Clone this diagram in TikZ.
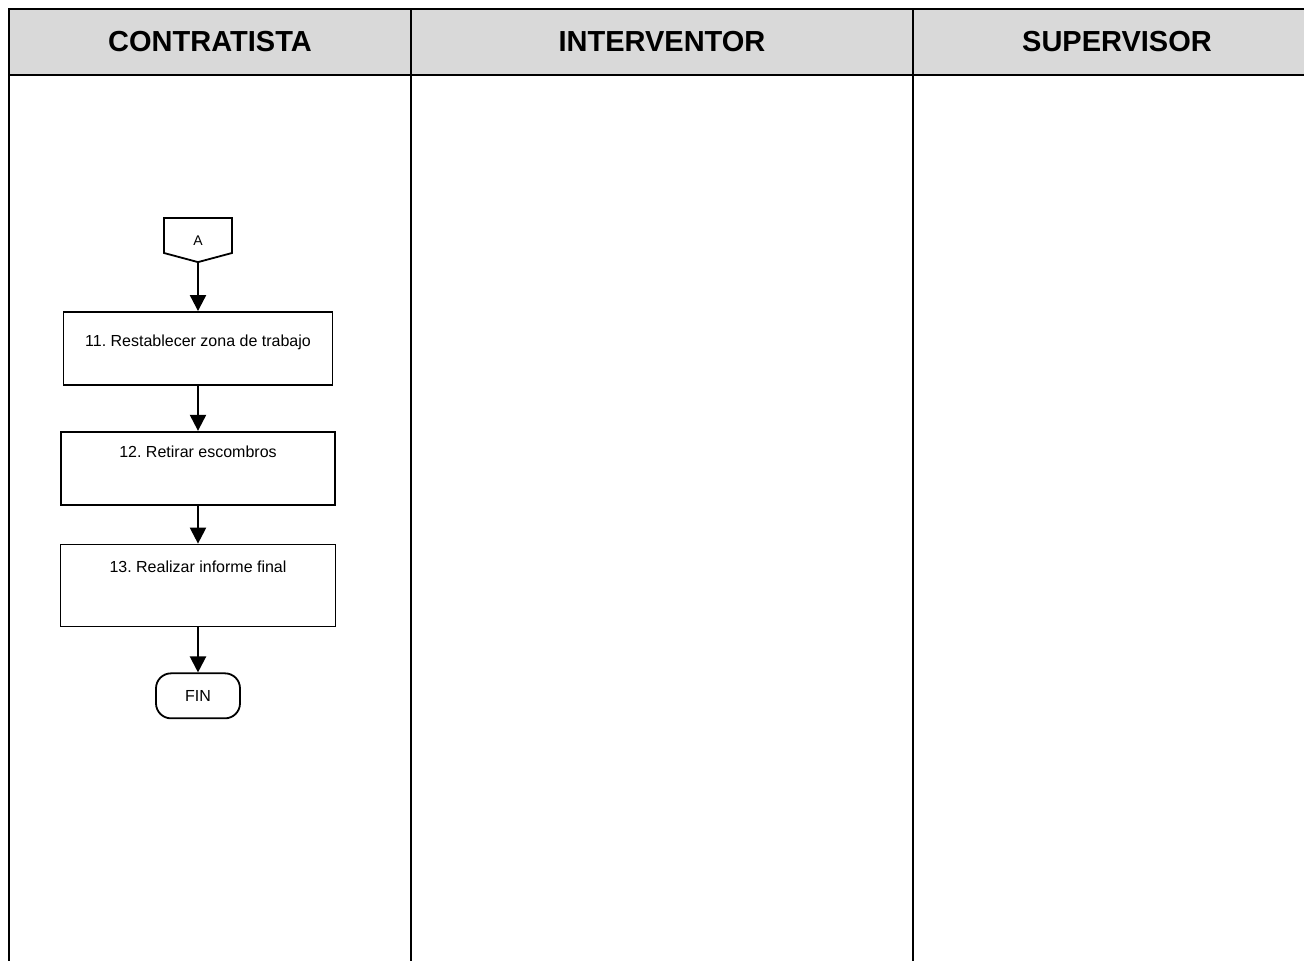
\documentclass[tikz,border=0pt]{standalone}
\usepackage{fontspec}
\setmainfont{Liberation Sans}
\usetikzlibrary{positioning,shapes.symbols,arrows.meta}

\begin{document}
\frenchspacing
\begin{tikzpicture}[x=1pt,y=-1pt,
  carril/.style={line width=2pt},
  titulo/.style={font=\fontsize{29}{34}\selectfont\bfseries},
  proceso/.style={draw, line width=1.8pt, inner sep=0pt, font=\fontsize{16}{19}\selectfont},
  conector/.style={draw, line width=1.8pt, signal, signal to=south, signal pointer angle=150,
    minimum width=68pt, minimum height=35pt, inner sep=0pt, font=\fontsize{14}{16}\selectfont},
  terminal/.style={draw, line width=1.8pt, rounded corners=15pt, minimum width=84pt,
    minimum height=45pt, font=\fontsize{16}{19}\selectfont},
  flecha/.style={-{Triangle[width=16pt,length=16pt]}, line width=2.2pt}]
  \useasboundingbox (0,0) rectangle (1304,961);
  % carriles
  \fill[black!15] (9,9) rectangle (1320,75);
  \draw[carril] (1320,9) -- (9,9) -- (9,970);
  \draw[carril] (9,75) -- (1320,75);
  \draw[carril] (411,9) -- (411,970);
  \draw[carril] (913,9) -- (913,970);
  \node[titulo] (contratista) at (210,42) {CONTRATISTA};
  \node[titulo] (interventor) at (662,42) {INTERVENTOR};
  \node[titulo] (supervisor) at (1117,42) {SUPERVISOR};
  % flujo
  \node[conector, text height=27pt, text depth=8pt] (a) at (198,235.5) {A};
  \node[proceso, minimum width=269pt, text height=35pt, text depth=38pt, below=48pt of a] (restablecer) {11. Restablecer zona de trabajo};
  \node[proceso, minimum width=274pt, text height=26pt, text depth=47pt, below=45pt of restablecer] (retirar) {12. Retirar escombros};
  \node[proceso, minimum width=275pt, text height=28pt, text depth=54pt, below=38pt of retirar] (informe) {13. Realizar informe final};
  \node[terminal, below=45pt of informe] (fin) {FIN};
  \draw[flecha] (a.south) -- (restablecer.north);
  \draw[flecha] (restablecer.south) -- (retirar.north);
  \draw[flecha] (retirar.south) -- (informe.north);
  \draw[flecha] (informe.south) -- (fin.north);
\end{tikzpicture}
\end{document}
